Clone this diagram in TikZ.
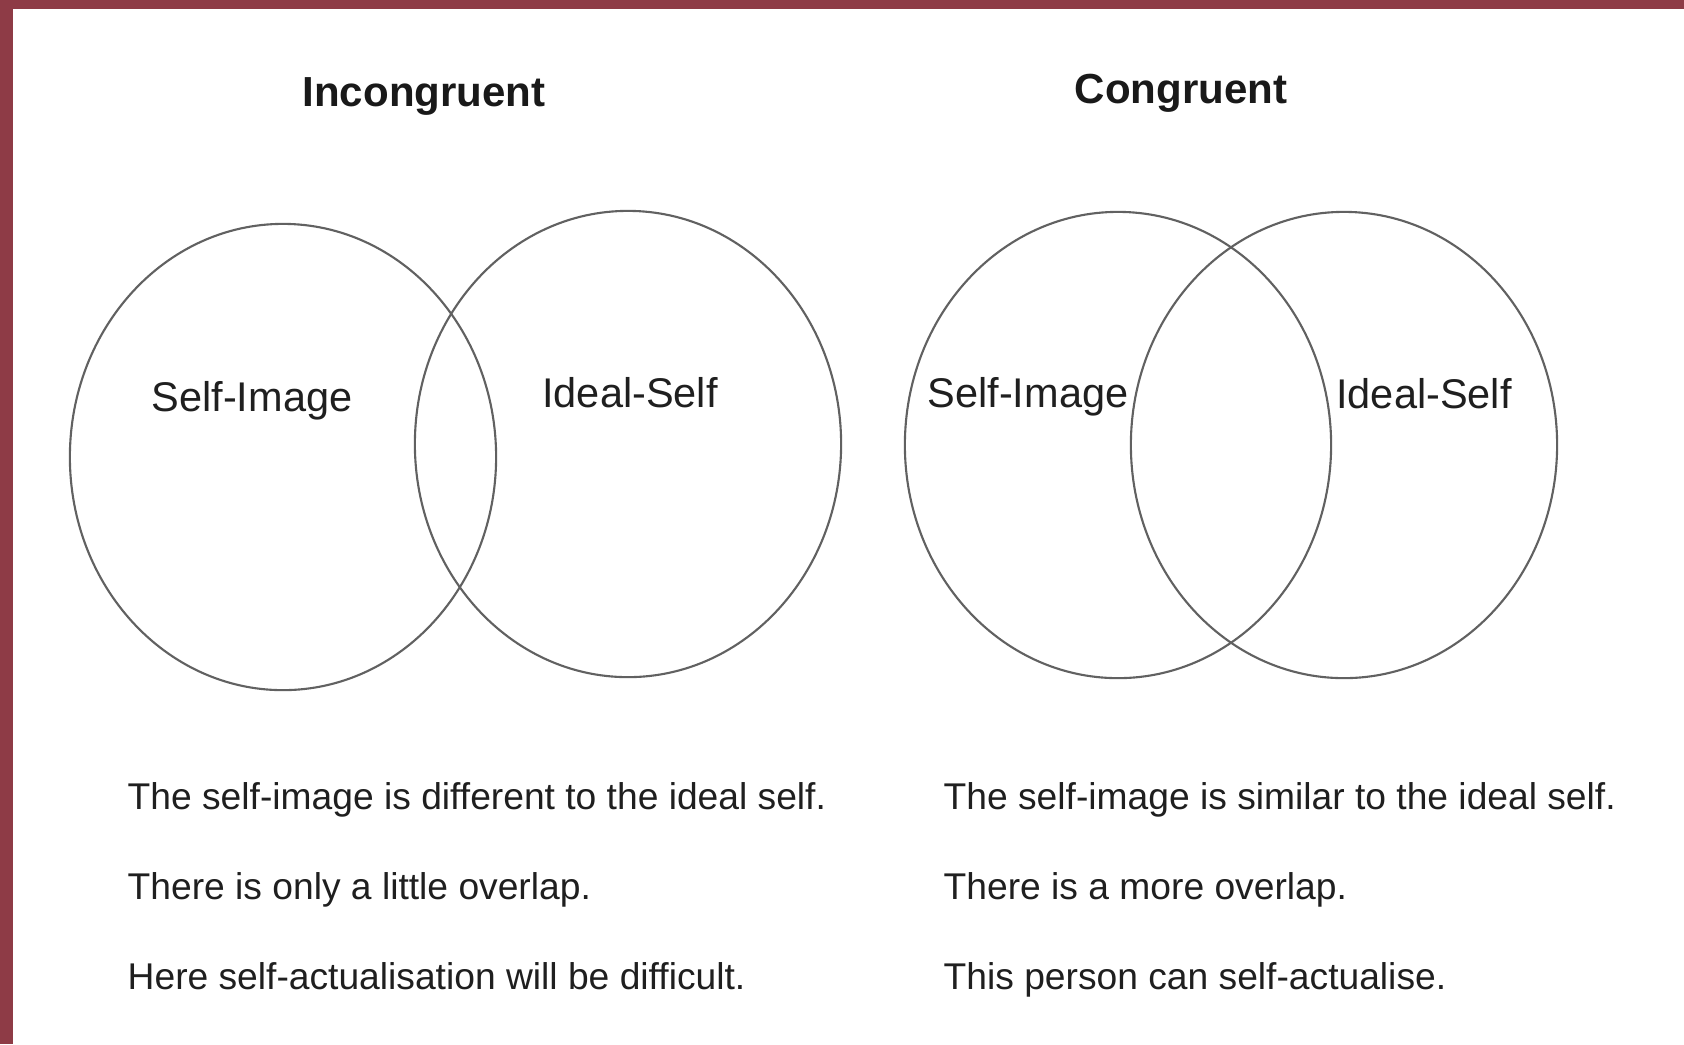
\documentclass[tikz,border=0pt]{standalone}
\usepackage{fontspec}
\setmainfont{Liberation Sans}
\definecolor{framered}{RGB}{142,59,70}
\begin{document}
\begin{tikzpicture}[x = 0.01cm, y = -0.01cm,
    venn/.style = {draw=black!62, line width=0.6pt},
    heading/.style = {anchor=base, inner sep=0pt, text=black!90, font=\fontsize{11.95}{14}\selectfont\bfseries},
    setlabel/.style = {anchor=base, inner sep=0pt, text=black!88, font=\fontsize{11.8}{14}\selectfont},
    remark/.style = {anchor=base west, inner sep=0pt, text=black!88, font=\fontsize{10.58}{12}\selectfont}]
        \useasboundingbox (0,0) rectangle (1684,1044);
        \fill[white] (0,0) rectangle (1684,1044);
        \fill[framered] (0,0) rectangle (1684,9);
        \fill[framered] (0,0) rectangle (13,1044);
        \coordinate (incimage)  at ( 283, 457);
        \coordinate (incideal)  at ( 628, 444);
        \coordinate (conimage)  at (1118, 445);
        \coordinate (conideal)  at (1344, 445);
        \draw[venn] (incimage) ellipse [x radius=2.13cm, y radius=2.33cm];
        \draw[venn] (incideal) ellipse [x radius=2.13cm, y radius=2.33cm];
        \draw[venn] (conimage) ellipse [x radius=2.13cm, y radius=2.33cm];
        \draw[venn] (conideal) ellipse [x radius=2.13cm, y radius=2.33cm];
        \node[heading] (inctitle) at ( 424, 106) {Incongruent};
        \node[heading] (contitle) at (1181, 103) {Congruent};
        \node[setlabel] (inclabimage) at ( 252, 411) {Self-Image};
        \node[setlabel] (inclabideal) at ( 630, 407) {Ideal-Self};
        \node[setlabel] (conlabimage) at (1028, 407) {Self-Image};
        \node[setlabel] (conlabideal) at (1424, 408) {Ideal-Self};
        \node[remark] (incone)   at (127, 809) {The self-image is different to the ideal self.};
        \node[remark] (inctwo)   at (127, 899) {There is only a little overlap.};
        \node[remark] (incthree) at (127, 989) {Here self-actualisation will be difficult.};
        \node[remark] (conone)   at (943, 809) {The self-image is similar to the ideal self.};
        \node[remark] (contwo)   at (943, 899) {There is a more overlap.};
        \node[remark] (conthree) at (943, 989) {This person can self-actualise.};
%         \draw[densely dotted] (incimage) -- (incideal);
      \end{tikzpicture}
\end{document}
